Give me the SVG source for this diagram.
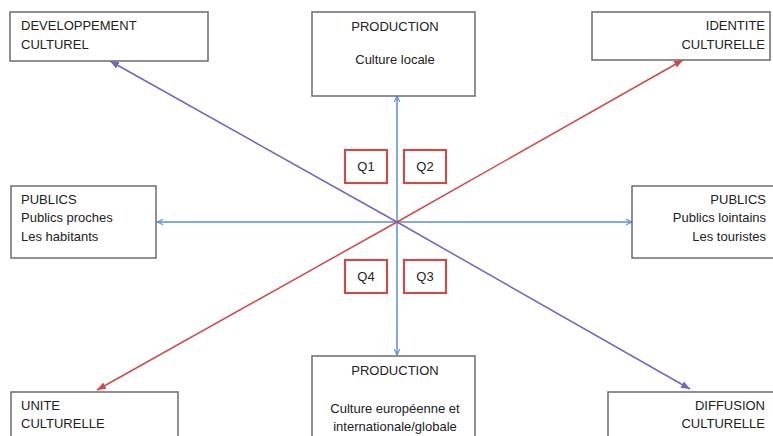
<svg xmlns="http://www.w3.org/2000/svg" width="773" height="436" viewBox="0 0 773 436">
<style>
.box{fill:#fff;stroke:#6b6b6b;stroke-width:1.5}
.q{fill:#fff;stroke:#c0504d;stroke-width:2.2}
text{font-family:"Liberation Sans",Arial,sans-serif;font-size:13px;fill:#222}
.m{text-anchor:middle}
.e{text-anchor:end}
.blue{stroke:#5b8fd6;stroke-width:1.5;fill:none}
.purple{stroke:#7563c0;stroke-width:1.5;fill:none}
.red{stroke:#d0494a;stroke-width:1.5;fill:none}
</style>
<defs>
<marker id="ab" viewBox="0 0 10 10" refX="9.5" refY="5" markerWidth="7" markerHeight="7" markerUnits="userSpaceOnUse" orient="auto"><path d="M1,1 L9.5,5 L1,9" fill="none" stroke="#5b8fd6" stroke-width="1.6"/></marker>
<marker id="ap" viewBox="0 0 10 10" refX="10" refY="5" markerWidth="9" markerHeight="9" markerUnits="userSpaceOnUse" orient="auto"><path d="M0,1 L10,5 L0,9 Z" fill="#7563c0"/></marker>
<marker id="ar" viewBox="0 0 10 10" refX="10" refY="5" markerWidth="9" markerHeight="9" markerUnits="userSpaceOnUse" orient="auto"><path d="M0,1 L10,5 L0,9 Z" fill="#d0494a"/></marker>
</defs>
<rect width="773" height="436" fill="#fff"/>
<g id="connectors">
<line class="blue" x1="397" y1="223" x2="397" y2="96" marker-end="url(#ab)"/>
<line class="blue" x1="397" y1="223" x2="397" y2="355" marker-end="url(#ab)"/>
<line class="blue" x1="397" y1="222" x2="157" y2="222" marker-end="url(#ab)"/>
<line class="blue" x1="397" y1="222" x2="632" y2="222" marker-end="url(#ab)"/>
<line class="purple" x1="397" y1="222" x2="110" y2="61" marker-end="url(#ap)"/>
<line class="purple" x1="397" y1="222" x2="690" y2="389" marker-end="url(#ap)"/>
<line class="red" x1="397" y1="222" x2="683" y2="60" marker-end="url(#ar)"/>
<line class="red" x1="397" y1="222" x2="97" y2="390" marker-end="url(#ar)"/>
</g>
<g id="dev"><rect class="box" x="10" y="12" width="198" height="49"/><text x="21" y="30">DEVELOPPEMENT</text><text x="21" y="49">CULTUREL</text></g>
<g id="prod-top"><rect class="box" x="312" y="12" width="163" height="84"/><text class="m" x="395" y="31">PRODUCTION</text><text class="m" x="395" y="64">Culture locale</text></g>
<g id="identite"><rect class="box" x="592" y="12" width="178" height="48"/><text class="e" x="765" y="30">IDENTITE</text><text class="e" x="765" y="49">CULTURELLE</text></g>
<g id="publics-left"><rect class="box" x="11" y="186" width="145" height="72"/><text x="21" y="204">PUBLICS</text><text x="21" y="222">Publics proches</text><text x="21" y="241">Les habitants</text></g>
<g id="publics-right"><rect class="box" x="632" y="186" width="145" height="72"/><text class="e" x="766" y="204">PUBLICS</text><text class="e" x="766" y="222">Publics lointains</text><text class="e" x="766" y="241">Les touristes</text></g>
<g id="q1"><rect class="q" x="345" y="150" width="42" height="33"/><text class="m" x="366" y="171">Q1</text></g>
<g id="q2"><rect class="q" x="404" y="150" width="42" height="33"/><text class="m" x="425" y="171">Q2</text></g>
<g id="q4"><rect class="q" x="345" y="260" width="42" height="33"/><text class="m" x="366" y="281">Q4</text></g>
<g id="q3"><rect class="q" x="404" y="260" width="42" height="33"/><text class="m" x="425" y="281">Q3</text></g>
<g id="unite"><rect class="box" x="11" y="392" width="167" height="60"/><text x="21" y="410">UNITE</text><text x="21" y="428">CULTURELLE</text></g>
<g id="prod-bottom"><rect class="box" x="312" y="356" width="163" height="90"/><text class="m" x="395" y="375">PRODUCTION</text><text class="m" x="395" y="413">Culture européenne et</text><text class="m" x="395" y="431">internationale/globale</text></g>
<g id="diffusion"><rect class="box" x="608" y="392" width="170" height="60"/><text class="e" x="765" y="410">DIFFUSION</text><text class="e" x="765" y="428">CULTURELLE</text></g>
</svg>
